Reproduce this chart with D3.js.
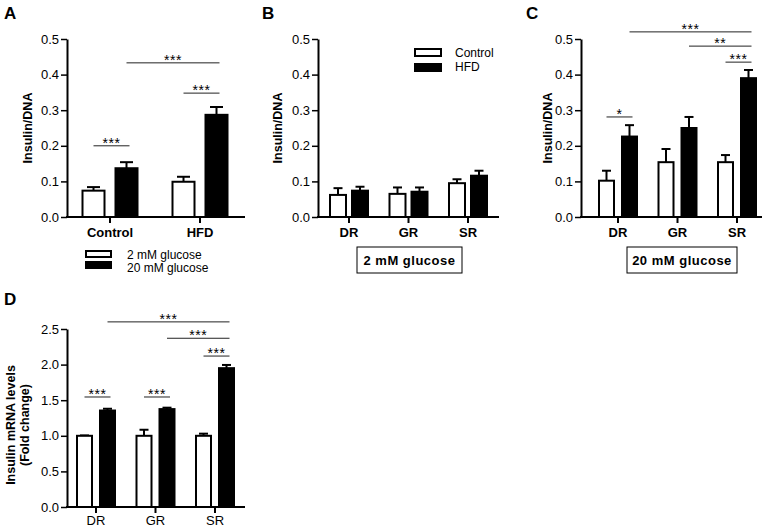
<!DOCTYPE html>
<head>
<meta charset="utf-8">
<title>Insulin panels</title>
<style>
    body { margin: 0; background: #fff; }
    svg { font-family: "Liberation Sans", Arial, sans-serif; }
    .tick text { font-size: 13px; fill: #000; }
    .tick line { stroke: #000; stroke-width: 1.5px; }
    .domain { stroke: #000; stroke-width: 2px; }
    .cat { font-size: 13px; font-weight: bold; }
    .ylab { font-size: 12.5px; font-weight: bold; }
    .plab { font-size: 17px; font-weight: bold; }
    .star { font-size: 14px; }
    .leg { font-size: 12px; }
</style>
</head>
<body>
<script src="https://d3js.org/d3.v7.min.js"></script>
<script>
// ---- data ----
const groupsA = ["Control", "HFD"];
const seriesA = ["2 mM glucose", "20 mM glucose"];
const meanA_2 = [0.074, 0.099];
const semA_2 = [0.010, 0.014];
const meanA_20 = [0.137, 0.287];
const semA_20 = [0.017, 0.022];

const groupsBC = ["DR", "GR", "SR"];
const seriesBC = ["Control", "HFD"];
const meanB_ctrl = [0.062, 0.065, 0.095];
const semB_ctrl = [0.019, 0.018, 0.011];
const meanB_hfd = [0.074, 0.071, 0.116];
const semB_hfd = [0.011, 0.012, 0.014];

const meanC_ctrl = [0.102, 0.154, 0.154];
const semC_ctrl = [0.028, 0.037, 0.020];
const meanC_hfd = [0.226, 0.250, 0.390];
const semC_hfd = [0.032, 0.031, 0.023];

const meanD_2 = [1.0, 1.0, 1.0];
const semD_2 = [0.005, 0.085, 0.03];
const meanD_20 = [1.355, 1.375, 1.95];
const semD_20 = [0.025, 0.02, 0.045];

const ticksABC = [0, 0.1, 0.2, 0.3, 0.4, 0.5];
const ticksD = [0, 0.5, 1.0, 1.5, 2.0, 2.5];

// significance brackets: [group1, series1, group2, series2, y, label]
const sigA = [
    ["Control", 0, "Control", 1, 0.2, "***"],
    ["HFD", 0, "HFD", 1, 0.348, "***"],
    ["Control", 1, "HFD", 1, 0.433, "***"]
];
const sigC = [
    ["DR", 0, "DR", 1, 0.281, "*"],
    ["SR", 0, "SR", 1, 0.435, "***"],
    ["GR", 1, "SR", 1, 0.48, "**"],
    ["DR", 1, "SR", 1, 0.52, "***"]
];
const sigD = [
    ["DR", 0, "DR", 1, 1.545, "***"],
    ["GR", 0, "GR", 1, 1.545, "***"],
    ["SR", 0, "SR", 1, 2.12, "***"],
    ["GR", 1, "SR", 1, 2.37, "***"],
    ["DR", 1, "SR", 1, 2.6, "***"]
];

const svg = d3.select("body").append("svg")
    .attr("width", 771)
    .attr("height", 530);

svg.append("rect").attr("width", 771).attr("height", 530).attr("fill", "#fff");

function panel(cfg) {
    const g = svg.append("g");
    const y = d3.scaleLinear().domain([0, cfg.ymax]).range([cfg.yb, cfg.yt]);
    const x = d3.scalePoint().domain(cfg.groups).range([cfg.t0, cfg.t1]);

    // y axis
    g.append("g")
        .attr("transform", `translate(${cfg.x0},0)`)
        .call(d3.axisLeft(y).tickValues(cfg.yticks).tickFormat(d3.format(".1f"))
            .tickSize(6).tickSizeOuter(0).tickPadding(2));

    // x axis line + ticks
    g.append("line")
        .attr("x1", cfg.x0 - 1).attr("x2", cfg.x1)
        .attr("y1", cfg.yb).attr("y2", cfg.yb)
        .attr("stroke", "#000").attr("stroke-width", 2);
    g.selectAll(".xt").data(cfg.groups).join("line")
        .attr("x1", d => x(d)).attr("x2", d => x(d))
        .attr("y1", cfg.yb).attr("y2", cfg.yb + 6)
        .attr("stroke", "#000").attr("stroke-width", 2);
    g.selectAll(".cat").data(cfg.groups).join("text")
        .attr("class", "cat")
        .attr("text-anchor", "middle")
        .attr("x", d => x(d))
        .attr("y", cfg.yb + cfg.catDy)
        .style("font-weight", cfg.catBold ? "bold" : "normal")
        .text(d => d);

    // bars
    const bx = (grp, s) => x(grp) + (s === 0 ? -cfg.off : cfg.off);
    cfg.series.forEach((ser, s) => {
        const rows = cfg.groups.map((grp, i) => ({grp, m: ser.mean[i], e: ser.sem[i]}));
        const bg = g.append("g");
        bg.selectAll("line.err").data(rows).join("line")
            .attr("x1", d => bx(d.grp, s)).attr("x2", d => bx(d.grp, s))
            .attr("y1", d => y(d.m)).attr("y2", d => y(d.m + d.e))
            .attr("stroke", "#000").attr("stroke-width", 2);
        bg.selectAll("line.cap").data(rows).join("line")
            .attr("x1", d => bx(d.grp, s) - cfg.cap / 2).attr("x2", d => bx(d.grp, s) + cfg.cap / 2)
            .attr("y1", d => y(d.m + d.e)).attr("y2", d => y(d.m + d.e))
            .attr("stroke", "#000").attr("stroke-width", 2);
        bg.selectAll("rect").data(rows).join("rect")
            .attr("x", d => bx(d.grp, s) - cfg.bw / 2)
            .attr("width", cfg.bw)
            .attr("y", d => y(d.m))
            .attr("height", d => y(0) - y(d.m))
            .attr("fill", s === 0 ? "#fff" : "#000")
            .attr("stroke", "#000").attr("stroke-width", 2);
    });

    // significance
    (cfg.sig || []).forEach(([g1, s1, g2, s2, v, lab]) => {
        const xa = bx(g1, s1), xb = bx(g2, s2) + 3;
        g.append("line")
            .attr("x1", xa).attr("x2", xb)
            .attr("y1", y(v)).attr("y2", y(v))
            .attr("stroke", "#222").attr("stroke-width", 1);
        g.append("text").attr("class", "star")
            .attr("text-anchor", "middle")
            .attr("x", (xa + xb) / 2).attr("y", y(v) + 2)
            .attr("letter-spacing", 0.5)
            .text(lab);
    });

    // y label
    const yc = (cfg.yb + cfg.yt) / 2 + (cfg.ylabDy || 0);
    cfg.ylab.forEach((t, i) => {
        g.append("text").attr("class", "ylab")
            .attr("text-anchor", "middle")
            .attr("transform", `translate(${cfg.ylabX[i]},${yc}) rotate(-90)`)
            .text(t);
    });

    g.append("text").attr("class", "plab")
        .attr("x", cfg.px).attr("y", cfg.py).text(cfg.name);
    return {g, x, y};
}

// A
const pA = panel({
    name: "A", px: 4, py: 19,
    groups: groupsA, ymax: 0.5, yticks: ticksABC, yb: 217, yt: 39,
    x0: 67, x1: 245, t0: 110, t1: 200, off: 16.5, bw: 22, cap: 13,
    catDy: 20, catBold: true,
    series: [{mean: meanA_2, sem: semA_2}, {mean: meanA_20, sem: semA_20}],
    sig: sigA, ylab: ["Insulin/DNA"], ylabX: [32]
});
// legend A
seriesA.forEach((s, i) => {
    pA.g.append("rect").attr("x", 86).attr("y", 251 + i * 11).attr("width", 25).attr("height", 6)
        .attr("fill", i === 0 ? "#fff" : "#000").attr("stroke", "#000").attr("stroke-width", 2);
    pA.g.append("text").attr("class", "leg").attr("x", 127).attr("y", 259 + i * 13).text(s);
});

// B
const pB = panel({
    name: "B", px: 262, py: 19,
    groups: groupsBC, ymax: 0.5, yticks: ticksABC, yb: 217, yt: 39,
    x0: 318, x1: 499, t0: 349, t1: 468, off: 11, bw: 16, cap: 9,
    catDy: 20, catBold: true,
    series: [{mean: meanB_ctrl, sem: semB_ctrl}, {mean: meanB_hfd, sem: semB_hfd}],
    ylab: ["Insulin/DNA"], ylabX: [282]
});
seriesBC.forEach((s, i) => {
    pB.g.append("rect").attr("x", 415).attr("y", 49 + i * 15).attr("width", 26).attr("height", 7)
        .attr("fill", i === 0 ? "#fff" : "#000").attr("stroke", "#000").attr("stroke-width", 2);
    pB.g.append("text").attr("class", "leg").attr("x", 455).attr("y", 57 + i * 14).text(s);
});

// C
const pC = panel({
    name: "C", px: 526, py: 19,
    groups: groupsBC, ymax: 0.5, yticks: ticksABC, yb: 217, yt: 39,
    x0: 581, x1: 762, t0: 618, t1: 737, off: 11.5, bw: 15, cap: 9,
    catDy: 20, catBold: true,
    series: [{mean: meanC_ctrl, sem: semC_ctrl}, {mean: meanC_hfd, sem: semC_hfd}],
    sig: sigC, ylab: ["Insulin/DNA"], ylabX: [552]
});

// boxed condition labels
[[pB, 357, 462, "2 mM glucose"], [pC, 627, 737, "20 mM glucose"]].forEach(([p, a, b, t]) => {
    p.g.append("rect").attr("x", a).attr("y", 247).attr("width", b - a).attr("height", 26)
        .attr("fill", "#fff").attr("stroke", "#000").attr("stroke-width", 1);
    p.g.append("text").attr("text-anchor", "middle")
        .attr("x", (a + b) / 2).attr("y", 265)
        .style("font-size", "13px").style("font-weight", "bold")
        .attr("letter-spacing", 0.5)
        .text(t);
});

// D
panel({
    name: "D", px: 4, py: 305,
    groups: groupsBC, ymax: 2.5, yticks: ticksD, yb: 507, yt: 329,
    x0: 67, x1: 245, t0: 96, t1: 215, off: 11.5, bw: 15, cap: 9,
    catDy: 18, catBold: false,
    series: [{mean: meanD_2, sem: semD_2}, {mean: meanD_20, sem: semD_20}],
    sig: sigD, ylab: ["Insulin mRNA levels", "(Fold change)"], ylabX: [15, 29], ylabDy: 7
});
</script>
</body>
